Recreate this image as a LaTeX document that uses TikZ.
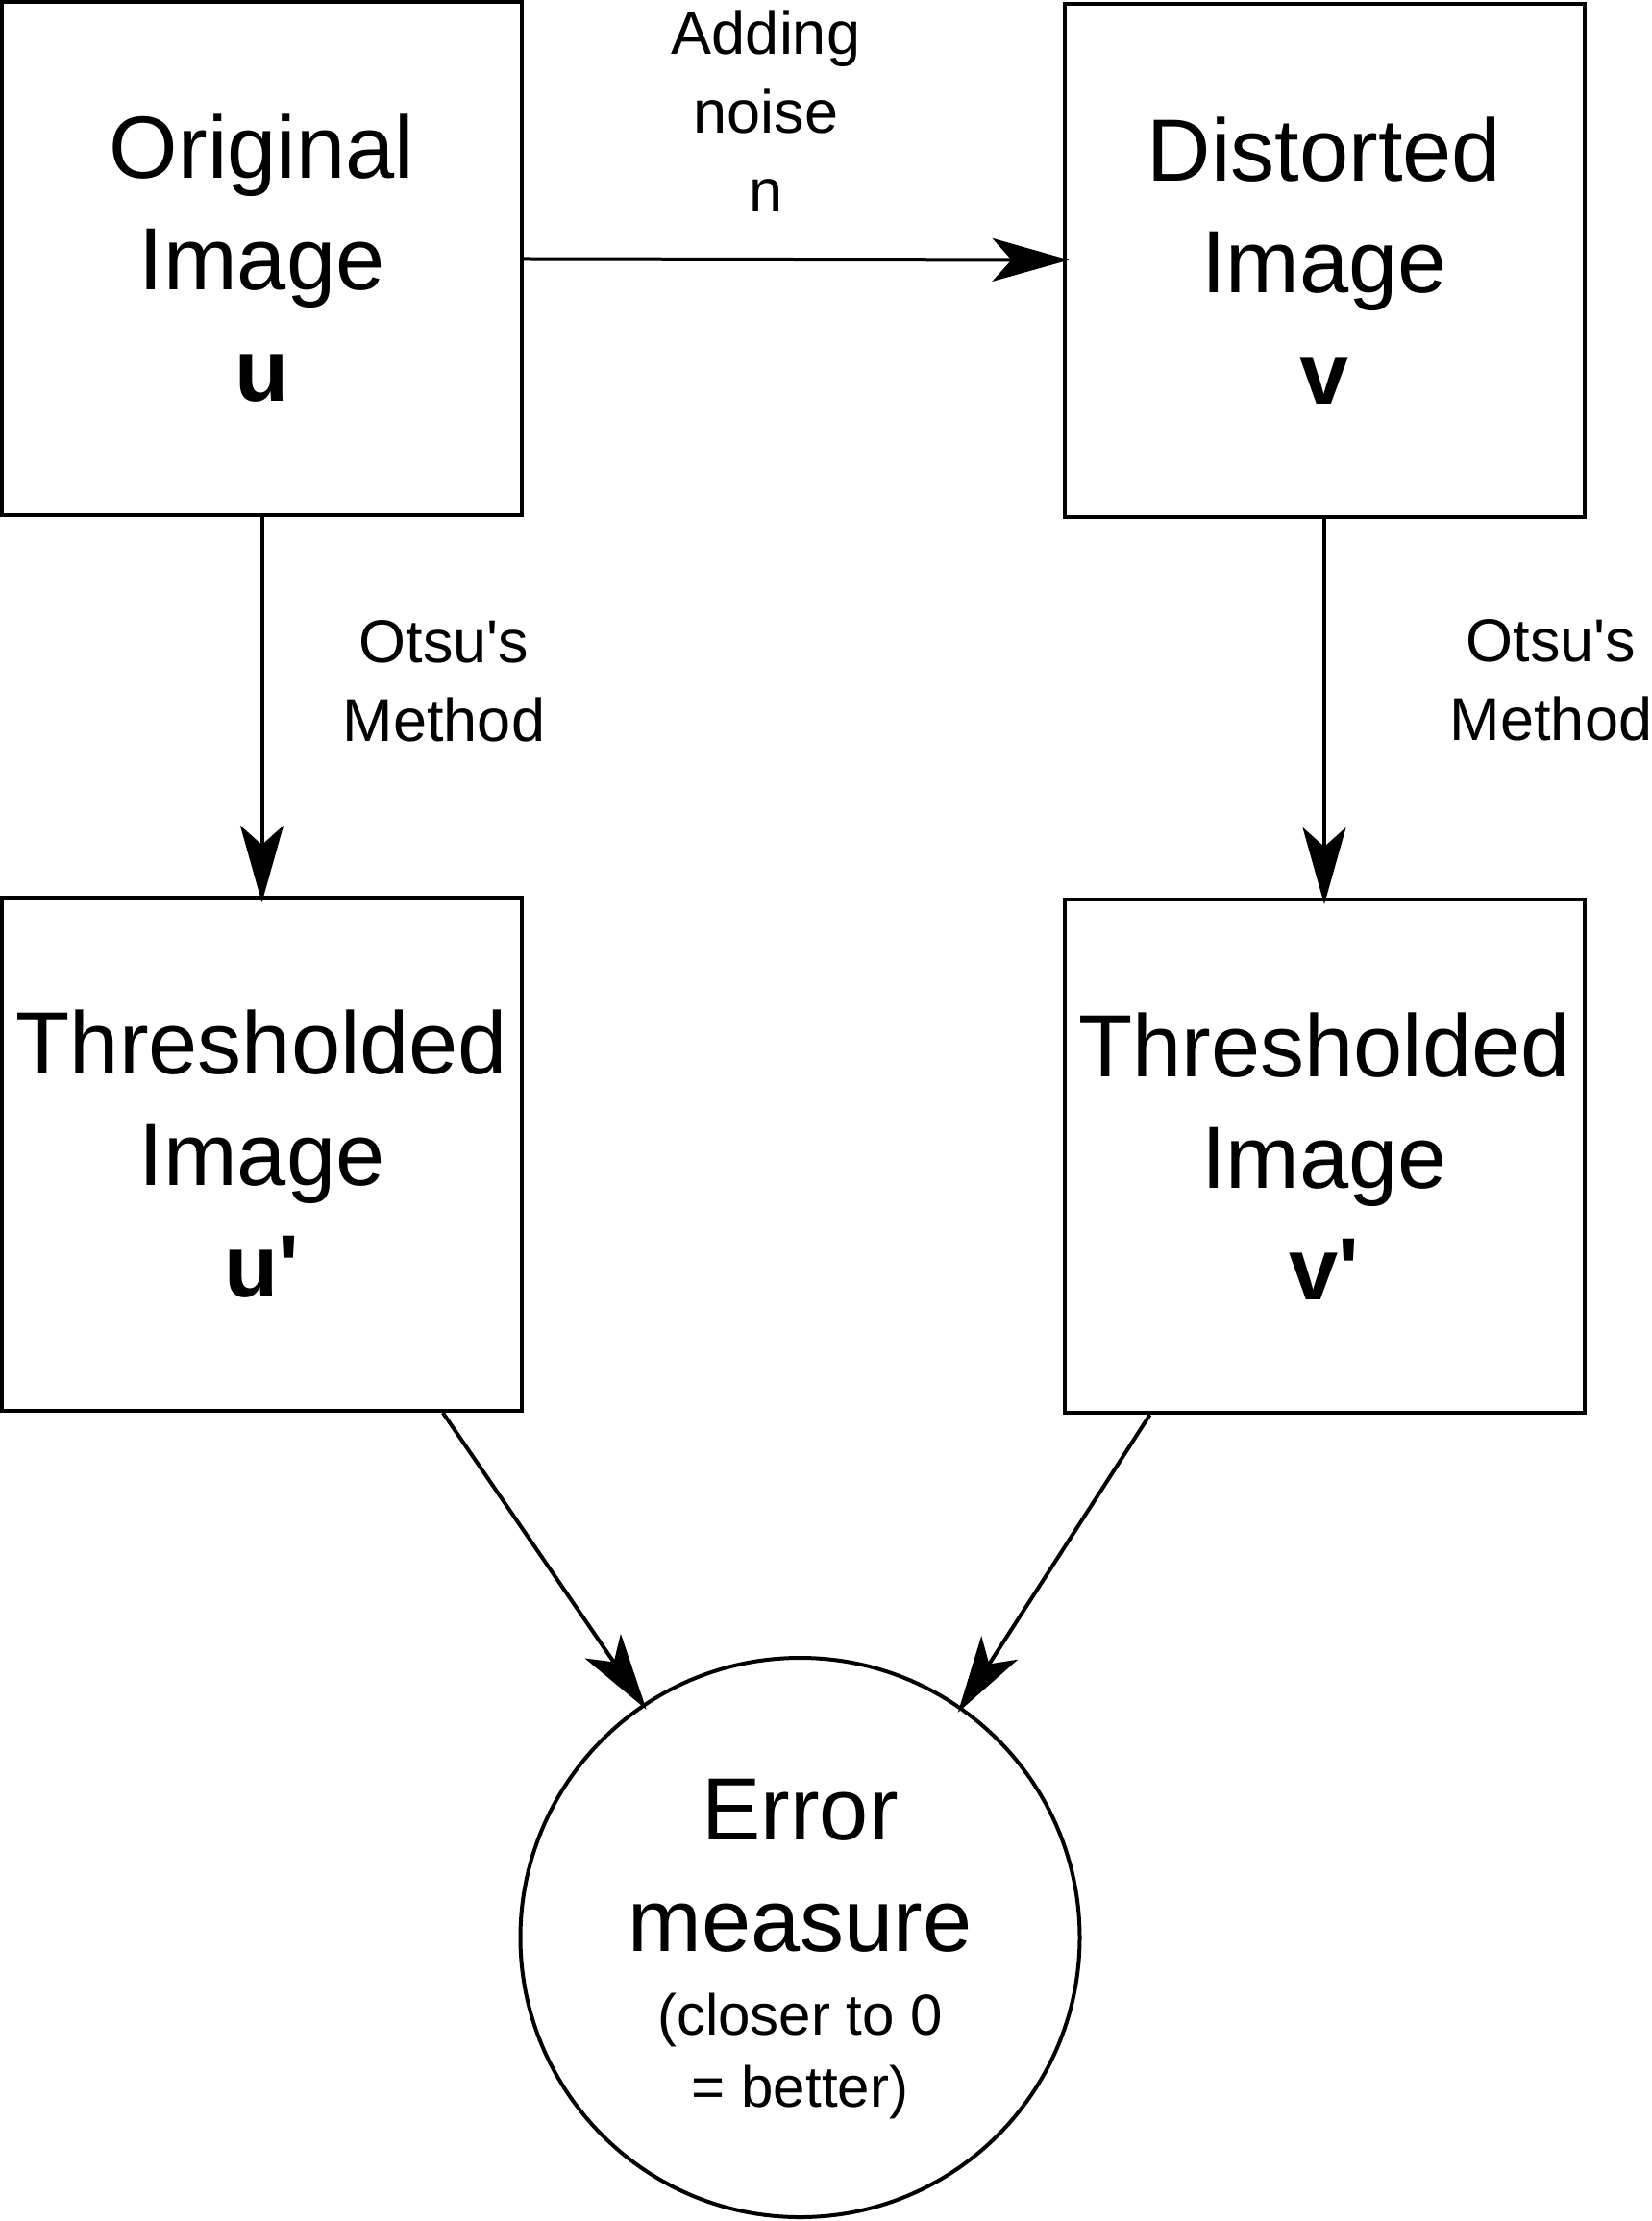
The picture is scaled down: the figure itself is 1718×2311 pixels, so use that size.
\documentclass[tikz,border=0pt]{standalone}
\usepackage{fontspec}
\setmainfont{Liberation Sans}[Ligatures=TeXOff]
\usetikzlibrary{arrows.meta}

\begin{document}
\begin{tikzpicture}[x=0.5pt, y=-0.5pt,
	imgbox/.style={draw, line width=2pt, minimum width=270.5pt, minimum height=267pt, inner sep=0pt, align=center, font=\fontsize{46}{58}\selectfont},
	errcirc/.style={draw, circle, line width=2pt, minimum size=291pt, inner sep=0pt, align=center, font=\fontsize{46}{37.5}\selectfont},
	lbl/.style={inner sep=0pt, align=center, font=\fontsize{31.5}{41}\selectfont},
	flow/.style={line width=2pt, -{Stealth[length=40pt, width=22.5pt, inset=10pt]}, shorten >=-3.5pt}]
			%%%%% START %%%%%
			
			\useasboundingbox (0, 0) rectangle (1718, 2311);
			
			\node[imgbox] (orig) at (272.5, 269) {Original\\Image\\\textbf{u}};
			\node[imgbox] (dist) at (1378, 271) {Distorted\\Image\\\textbf{v}};
			
			\node[imgbox] (thrl) at (272.5, 1201) {Thresholded\\Image\\\textbf{u'}};
			\node[imgbox] (thrr) at (1378, 1203) {Thresholded\\Image\\\textbf{v'}};
			
			\node[errcirc] (err) at (832.5, 2016) {\rule{0pt}{43.5pt}Error\\[20.5pt]measure\\[6.3pt]\fontsize{30}{37.5}\selectfont (closer to 0\\\fontsize{30}{37.5}\selectfont = better)};
			
			\node[lbl] (noise) at (797, 115.5) {Adding\\noise\\n};
			\node[lbl] (otsul) at (462, 709) {Otsu's\\Method};
			\node[lbl] (otsur) at (1614, 708) {Otsu's\\Method};
			
			\draw[flow] (orig) -- (dist);
			\draw[flow] (orig) -- (thrl);
			\draw[flow] (dist) -- (thrr);
			
			\draw[flow] (thrl.-55) -- (err.124);
			\draw[flow] (thrr.-124) -- (err.55);
			
			%%%%% END %%%%%
\end{tikzpicture}
\end{document}
